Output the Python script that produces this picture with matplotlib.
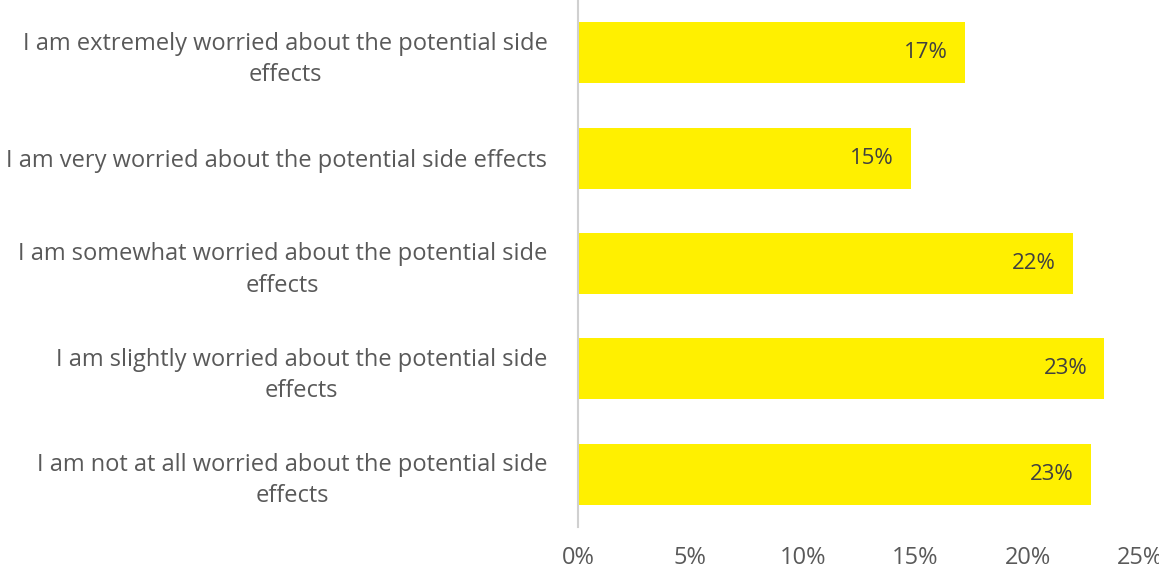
import matplotlib.pyplot as plt

# survey answers, top to bottom
answers = [
    "I am extremely worried about the potential side\neffects",
    "I am very worried about the potential side effects",
    "I am somewhat worried about the potential side\neffects",
    "I am slightly worried about the potential side\neffects",
    "I am not at all worried about the potential side\neffects",
]
shares = [17.2, 14.8, 22.0, 23.4, 22.8]
xticks = [0, 5, 10, 15, 20, 25]

plt.rcParams['font.family'] = ['Open Sans', 'DejaVu Sans']

fig = plt.figure(figsize=(11.59, 5.72), dpi=100)
ax = fig.add_axes([0.4987, 0.0787, 0.4849, 0.9213])

pos = list(range(len(answers)))
ax.barh(pos, shares, height=0.58, color='#FFF000')

for y, v in zip(pos, shares):
    ax.annotate(f"{round(v)}%", xy=(v, y), xytext=(-12, 0), textcoords='offset points',
                ha='right', va='center', fontsize=16, color='#404040')

ax.set_xlim(0, 25)
ax.set_ylim(len(answers) - 0.5, -0.5)
ax.set_xticks(xticks)
ax.set_xticklabels([f"{t}%" for t in xticks])
ax.set_yticks(pos)
ax.set_yticklabels(answers)
for lbl in ax.get_yticklabels():
    lbl.set_multialignment('center')
    lbl.set_linespacing(1.4)

ax.tick_params(axis='both', length=0, labelcolor='#595959')
ax.tick_params(axis='x', pad=14, labelsize=17)
ax.tick_params(axis='y', pad=22, labelsize=17)

for side in ['top', 'right', 'bottom']:
    ax.spines[side].set_visible(False)
ax.spines['left'].set_color('#D0D0D0')
ax.spines['left'].set_linewidth(1.5)

fig.savefig("out.png", dpi=100)
